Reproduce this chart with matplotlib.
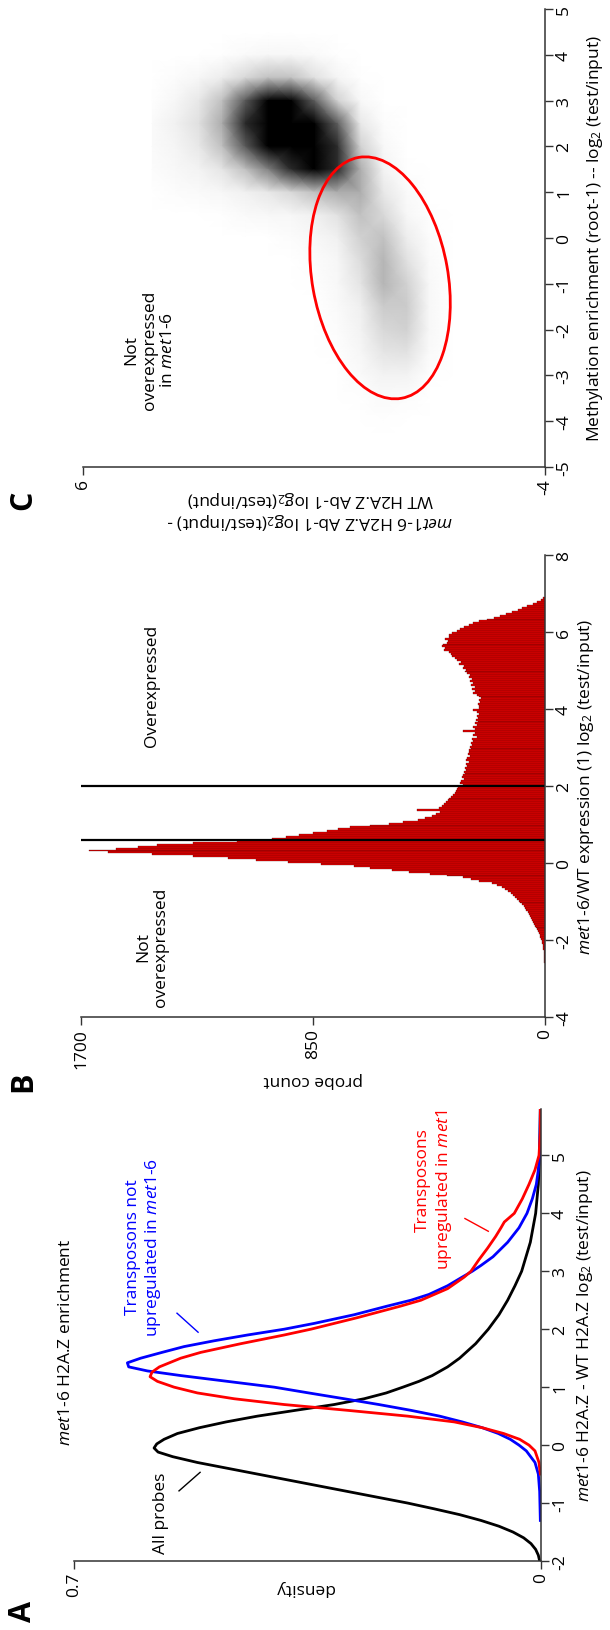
import numpy as np
import matplotlib
matplotlib.use("Agg")
import matplotlib.pyplot as plt
from matplotlib.patches import Ellipse

plt.rcParams['font.family'] = ['Open Sans', 'DejaVu Sans']
plt.rcParams['mathtext.fontset'] = 'custom'
plt.rcParams['mathtext.rm'] = 'Open Sans'
plt.rcParams['mathtext.it'] = 'Open Sans:italic'
plt.rcParams['axes.unicode_minus'] = False

# ---- panel A: H2A.Z enrichment densities ----
black_x = [-2.0, -1.9, -1.8, -1.7, -1.6, -1.5, -1.4, -1.3, -1.2, -1.1, -1.0, -0.9, -0.8,
           -0.7, -0.6, -0.5, -0.4, -0.3, -0.2, -0.12, -0.05, 0.02, 0.1, 0.2, 0.3, 0.4,
           0.5, 0.6, 0.7, 0.8, 0.9, 1.0, 1.1, 1.2, 1.35, 1.5, 1.75, 2.0, 2.25, 2.5, 2.75,
           3.0, 3.5, 4.0, 4.5, 5.0, 5.8]
black_d = [0.002, 0.004, 0.008, 0.015, 0.026, 0.042, 0.063, 0.090, 0.122, 0.160, 0.200,
           0.245, 0.290, 0.335, 0.380, 0.425, 0.470, 0.515, 0.552, 0.574, 0.580, 0.576,
           0.565, 0.545, 0.512, 0.472, 0.425, 0.368, 0.310, 0.265, 0.232, 0.207, 0.183,
           0.163, 0.140, 0.122, 0.098, 0.079, 0.063, 0.050, 0.039, 0.029, 0.016, 0.008,
           0.004, 0.002, 0.001]

blue_x = [-1.3, -0.8, -0.5, -0.3, -0.1, 0.0, 0.1, 0.2, 0.3, 0.4, 0.5, 0.6, 0.7, 0.8, 0.9,
          1.0, 1.1, 1.2, 1.28, 1.35, 1.42, 1.5, 1.6, 1.7, 1.8, 1.9, 2.0, 2.1, 2.25, 2.4,
          2.5, 2.6, 2.75, 2.9, 3.0, 3.1, 3.25, 3.5, 3.75, 4.0, 4.25, 4.5, 4.75, 5.0, 5.8]
blue_d = [0.001, 0.002, 0.004, 0.009, 0.022, 0.033, 0.046, 0.064, 0.088, 0.118, 0.152,
          0.195, 0.243, 0.295, 0.348, 0.400, 0.470, 0.540, 0.590, 0.618, 0.620, 0.600,
          0.568, 0.535, 0.490, 0.440, 0.385, 0.340, 0.280, 0.230, 0.195, 0.168, 0.140,
          0.118, 0.103, 0.090, 0.072, 0.050, 0.033, 0.021, 0.013, 0.007, 0.004, 0.002,
          0.001]

red_x = [-0.5, -0.3, -0.1, 0.0, 0.1, 0.2, 0.3, 0.4, 0.5, 0.6, 0.7, 0.8, 0.9, 1.0, 1.1,
         1.18, 1.26, 1.35, 1.5, 1.6, 1.75, 1.9, 2.0, 2.2, 2.4, 2.5, 2.7, 2.9, 3.0, 3.2,
         3.4, 3.6, 3.75, 3.85, 4.0, 4.25, 4.5, 4.75, 5.0, 5.4, 5.8]
red_d = [0.001, 0.003, 0.009, 0.018, 0.032, 0.056, 0.088, 0.130, 0.200, 0.290, 0.385,
         0.460, 0.515, 0.550, 0.575, 0.586, 0.583, 0.572, 0.540, 0.510, 0.450, 0.385,
         0.345, 0.275, 0.210, 0.180, 0.140, 0.115, 0.105, 0.093, 0.080, 0.068, 0.060,
         0.055, 0.040, 0.028, 0.018, 0.009, 0.003, 0.001, 0.001]

# ---- panel B: expression histogram (bin width 0.05 starting at -2.6) ----
bin_start = -2.6
bin_width = 0.05
probe_counts = [
    2, 2, 3, 3, 4, 5, 5, 6, 7, 9,
    10, 12, 14, 17, 20, 23, 26, 29, 32, 36,
    40, 43, 47, 52, 55, 59, 63, 68, 72, 78,
    84, 90, 97, 103, 110, 118, 126, 135, 146, 158,
    175, 195, 240, 270, 300, 360, 420, 500, 560, 640,
    700, 820, 940, 1060, 1160, 1290, 1440, 1600, 1670, 1570,
    1490, 1420, 1290, 1130, 1000, 950, 900, 850, 800, 760,
    714, 640, 571, 520, 464, 440, 414, 400, 386, 470,
    390, 379, 370, 362, 357, 350, 345, 336, 330, 326,
    321, 318, 300, 312, 308, 296, 305, 300, 292, 298,
    290, 294, 286, 290, 280, 288, 284, 276, 282, 278,
    279, 270, 275, 268, 272, 262, 266, 250, 262, 258,
    300, 256, 262, 250, 258, 246, 252, 244, 250, 240,
    248, 264, 242, 240, 246, 238, 243, 234, 240, 250,
    262, 255, 266, 258, 270, 262, 274, 268, 280, 276,
    286, 293, 290, 300, 298, 314, 306, 322, 330, 340,
    343, 352, 371, 365, 378, 372, 360, 357, 366, 350,
    350, 340, 321, 310, 296, 279, 262, 240, 212, 186,
    165, 143, 120, 100, 86, 65, 43, 30, 14, 6,
]
cutoffs = [0.6, 2.0]

# ---- panel C: point density of H2A.Z change vs methylation ----
h2az_v = [-2.5, -2.0, -1.5, -1.0, -0.5, 0.0, 0.5, 1.0, 1.5, 2.0, 2.5, 3.0, 3.5, 4.0, 4.5]
meth_m = [4.5, 4.0, 3.5, 3.0, 2.5, 2.0, 1.5, 1.0, 0.5, 0.0, -0.5, -1.0, -1.5, -2.0,
          -2.5, -3.0, -3.5, -4.0, -4.5]
point_density = [
    [0, 0, 0, 0, 0, 0, 0, 0, 0, 0, 0, 0, 0, 0, 0],
    [0, 0, 0, 0, 0, 0, 0.1, 0.3, 0.5, 0.5, 0.3, 0.1, 0, 0, 0],
    [0, 0, 0, 0, 0, 0.1, 0.6, 1.5, 2.5, 2.5, 1.8, 1, 0.5, 0.2, 0],
    [0, 0, 0, 0, 0, 0.4, 2, 5, 7, 7, 5, 2.5, 1.2, 0.5, 0.1],
    [0, 0, 0, 0, 0.2, 1.2, 5, 9, 10, 9, 6, 3, 1.5, 0.8, 0.3],
    [0, 0, 0, 0, 0.4, 2, 6, 10, 10, 8, 5, 2.5, 1.2, 0.6, 0.3],
    [0, 0, 0, 0.1, 0.7, 3, 6, 7, 6, 4, 2.5, 1.3, 0.7, 0.4, 0.2],
    [0, 0, 0, 0.3, 1.2, 3, 3, 2.5, 1.8, 1.2, 0.8, 0.5, 0.3, 0.2, 0],
    [0, 0, 0.1, 0.5, 1.8, 2.5, 1.4, 0.8, 0.5, 0.4, 0.3, 0.1, 0, 0, 0],
    [0, 0, 0.2, 1, 2.5, 2, 0.8, 0.4, 0.2, 0, 0, 0, 0, 0, 0],
    [0, 0, 0.3, 1.5, 2.8, 1.6, 0.5, 0.2, 0, 0, 0, 0, 0, 0, 0],
    [0, 0, 0.4, 2, 2.8, 1.3, 0.4, 0.1, 0, 0, 0, 0, 0, 0, 0],
    [0, 0, 0.4, 2.2, 2.2, 0.9, 0.3, 0, 0, 0, 0, 0, 0, 0, 0],
    [0, 0, 0.4, 2, 1.8, 0.7, 0.2, 0, 0, 0, 0, 0, 0, 0, 0],
    [0, 0, 0.3, 1.4, 1.3, 0.5, 0.1, 0, 0, 0, 0, 0, 0, 0, 0],
    [0, 0, 0.1, 0.7, 0.7, 0.3, 0, 0, 0, 0, 0, 0, 0, 0, 0],
    [0, 0, 0, 0.2, 0.3, 0.1, 0, 0, 0, 0, 0, 0, 0, 0, 0],
    [0, 0, 0, 0, 0.1, 0.05, 0, 0, 0, 0, 0, 0, 0, 0, 0],
    [0, 0, 0, 0, 0, 0, 0, 0, 0, 0, 0, 0, 0, 0, 0],
]

W, H = 610, 1631
FS = 12.5
MET = r"$\mathit{met1}$-$\mathit{6}$"

fig = plt.figure(figsize=(W / 100, H / 100), dpi=100)


def add_axes_px(left, right, top, bottom):
    return fig.add_axes([left / W, 1 - bottom / H, (right - left) / W, (bottom - top) / H])


def fig_text(x, y, s, **kw):
    kw.setdefault('fontsize', FS)
    kw.setdefault('ha', 'center')
    kw.setdefault('va', 'center')
    return fig.text(x / W, 1 - y / H, s, **kw)


def style(ax):
    ax.patch.set_visible(False)
    for s in ['top', 'left']:
        ax.spines[s].set_visible(False)
    for s in ['bottom', 'right']:
        ax.spines[s].set_color('#333333')
        ax.spines[s].set_linewidth(1.1)
    ax.yaxis.tick_right()
    ax.tick_params(direction='out', length=6, width=1, color='#333333', labelsize=FS, pad=2)
    ax.tick_params(axis='both', labelrotation=90)
    for lab in ax.get_yticklabels():
        lab.set_va('center')


# ---- A ----
axA = add_axes_px(74, 541, 1110, 1562)
axA.plot(black_d, black_x, color='black', lw=2)
axA.plot(blue_d, blue_x, color='#0000ff', lw=2)
axA.plot(red_d, red_x, color='#ff0000', lw=2)
axA.set_xlim(0.7, 0)
axA.set_ylim(-2, 5.8)
axA.set_xticks([0.7, 0])
axA.set_xticklabels(['0.7', '0'])
axA.set_yticks(range(-2, 6))
style(axA)
axA.text(0.57, -1.16, "All probes", rotation=90, ha='center', va='center', fontsize=FS)
axA.plot([0.5426, 0.511], [-0.79, -0.47], color='black', lw=1)
axA.text(0.595, 3.43, "Transposons not\nupregulated in " + MET, rotation=90,
         ha='center', va='center', color='#0000ff', fontsize=FS, multialignment='center')
axA.plot([0.5456, 0.514], [2.276, 1.948], color='#0000ff', lw=1)
axA.text(0.16, 4.59, "Transposons\nupregulated in " + MET, rotation=90, ha='center',
         va='center', color='#ff0000', fontsize=FS, multialignment='center', clip_on=True)
axA.plot([0.114, 0.079], [3.91, 3.69], color='#ff0000', lw=1)
fig_text(66, 1342, MET + " H2A.Z enrichment", rotation=90)
fig_text(585, 1336, MET + r" H2A.Z - WT H2A.Z log$_2$ (test/input)", rotation=90)
fig_text(305, 1588, "density", rotation=180)
fig_text(23, 1612, "A", rotation=90, fontsize=22, fontweight='bold')

# ---- B ----
axB = add_axes_px(81, 545, 556, 1018)
centers = [bin_start + bin_width * (i + 0.5) for i in range(len(probe_counts))]
axB.barh(centers, probe_counts, height=bin_width, color='#e00000',
         edgecolor='#400000', linewidth=0.2)
for c in cutoffs:
    axB.axhline(c, color='black', lw=1.6)
axB.set_xlim(1700, 0)
axB.set_ylim(-4, 8)
axB.set_xticks([1700, 850, 0])
axB.set_yticks(range(-4, 9, 2))
style(axB)
axB.text(1440, -2.16, "Not\noverexpressed", rotation=90, ha='center', va='center',
         fontsize=FS, multialignment='center')
axB.text(1440, 4.62, "Overexpressed", rotation=90, ha='center', va='center', fontsize=FS)
fig_text(313, 1080, "probe count", rotation=180)
fig_text(586, 787, MET + r"/WT expression (1) log$_2$ (test/input)", rotation=90)
fig_text(23, 1082, "B", rotation=90, fontsize=22, fontweight='bold')

# ---- C ----
axC = add_axes_px(83, 545, 10, 468)
axC.pcolormesh(h2az_v, meth_m, np.array(point_density), shading='gouraud',
               cmap='Greys', vmin=0, vmax=7)
axC.add_patch(Ellipse((-0.43, -0.87), width=5.34, height=2.94, angle=80,
                      fill=False, edgecolor='#ff0000', lw=2))
axC.set_xlim(6, -4)
axC.set_ylim(-5, 5)
axC.set_xticks([6, -4])
axC.set_yticks(range(-5, 6))
style(axC)
axC.text(4.55, -2.42, "Not\noverexpressed\nin " + MET, rotation=90, ha='center',
         va='center', fontsize=FS, multialignment='center')
fig_text(310, 510, MET + r" H2A.Z Ab-1 log$_2$(test/input) -" + "\n" +
         r"WT H2A.Z Ab-1 log$_2$(test/input)", rotation=180, multialignment='center')
fig_text(595, 239, r"Methylation enrichment (root-1) -- log$_2$ (test/input)", rotation=90)
fig_text(23, 500, "C", rotation=90, fontsize=22, fontweight='bold')

fig.savefig("out.png", dpi=100)
